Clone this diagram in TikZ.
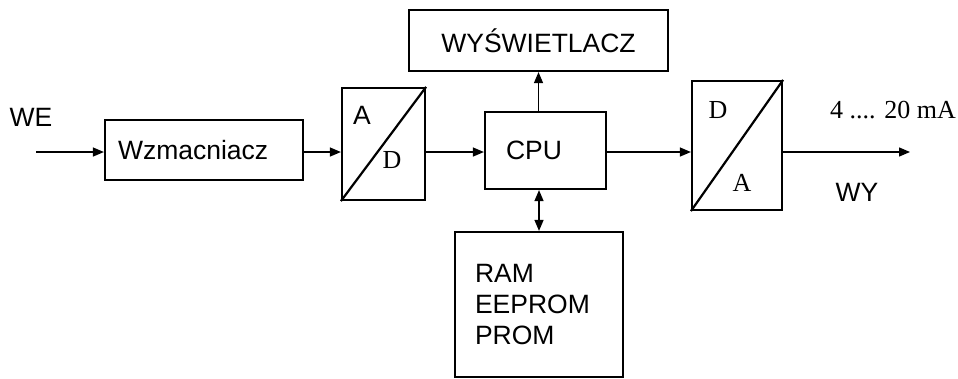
\documentclass[tikz,border=0pt]{standalone}
\usepackage{fontspec}
\setmainfont{Liberation Sans}
\newfontfamily\timesfont{Liberation Serif}
\usetikzlibrary{
    arrows.meta,
    positioning
}
\tikzset{
  box/.style   = {draw, line width=2.2pt, inner sep=0pt, align=left,
                  font=\fontsize{26.5}{31}\selectfont},
  conv/.style  = {draw, line width=2.2pt, inner sep=0pt},
  arr/.style   = {-{Triangle[length=11pt,width=9pt]}, line width=1.3pt},
  darr/.style  = {{Triangle[length=11pt,width=9pt]}-{Triangle[length=11pt,width=9pt]},
                  line width=1.3pt},
  lbl/.style   = {inner sep=0pt, font=\fontsize{26.5}{31}\selectfont},
  slbl/.style  = {inner sep=0pt, font=\timesfont\fontsize{26}{30}\selectfont}
}

\begin{document}
\begin{tikzpicture}[x=1pt, y=-1pt]
\useasboundingbox (0,0) rectangle (958,378);

\node[box, minimum width=198pt, minimum height=60pt, text width=172pt] (amp) at (204,150) {Wzmacniacz};
\node[conv, minimum width=83pt, minimum height=112pt] (ad) at (383.5,144) {};
\node[box, minimum width=121pt, minimum height=77pt, text width=79pt] (cpu) at (545.5,150.5) {CPU};
\node[box, minimum width=259pt, minimum height=61pt, align=center] (disp) at (538.5,40.5) {WYŚWIETLACZ};
\node[box, minimum width=168pt, minimum height=145pt, text width=128pt] (mem) at (539,304.5) {RAM\\EEPROM\\PROM};
\node[conv, minimum width=90pt, minimum height=129pt] (da) at (737,145.5) {};

% converter diagonals and letters
\draw[line width=2.2pt] (ad.south west) -- (ad.north east);
\draw[line width=2.2pt] (da.south west) -- (da.north east);
\node[lbl] (ad-a) at (362,115) {A};
\node[slbl] (ad-d) at (392,160) {D};
\node[slbl] (da-d) at (718,110) {D};
\node[slbl] (da-a) at (742,183) {A};

% signal path
\coordinate (we) at (36,152);
\coordinate (wy) at (910,152);
\draw[arr] (we) -- (we -| amp.west);
\draw[arr] (we -| amp.east) -- (we -| ad.west);
\draw[arr] (we -| ad.east) -- (we -| cpu.west);
\draw[arr] (we -| cpu.east) -- (we -| da.west);
\draw[arr] (we -| da.east) -- (wy);
\draw[arr] (disp.south |- cpu.north) -- (disp.south);
\draw[darr] (mem.north |- cpu.south) -- (mem.north);

\node[lbl] (we-lbl) at (31,117) {WE};
\node[lbl] (wy-lbl) at (857,192) {WY};
\node[slbl] (ma) at (893,110) {4 .... 20 mA};
\end{tikzpicture}
\end{document}
